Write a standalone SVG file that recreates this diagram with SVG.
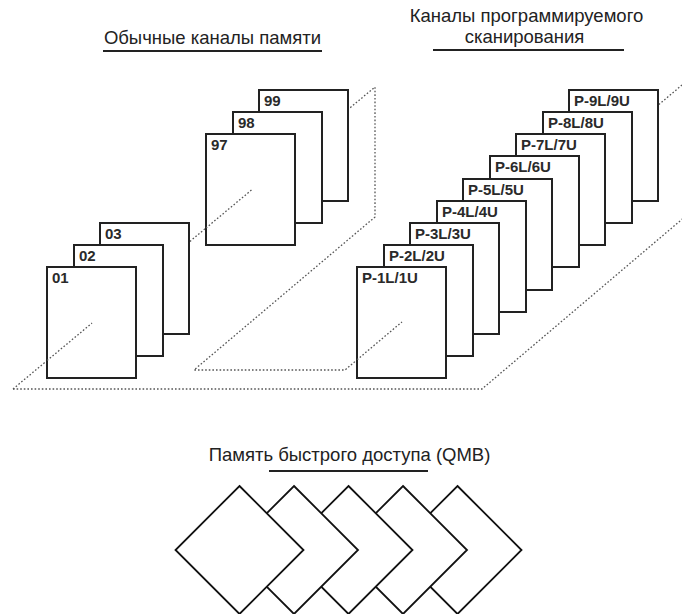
<svg xmlns="http://www.w3.org/2000/svg" width="682" height="614" viewBox="0 0 682 614">
<style>
.bg{fill:#fff}
.card rect{fill:#fff;stroke:#222;stroke-width:2}
.card text{font-family:"Liberation Sans",Arial,sans-serif;font-weight:bold;font-size:15px;fill:#2a2a2a}
.title{font-family:"Liberation Sans",Arial,sans-serif;font-size:18.5px;fill:#222;text-anchor:middle}
.ul{stroke:#222;stroke-width:2.2}
.dot{fill:none;stroke:#555;stroke-width:1.3;stroke-dasharray:1.6 2}
.dia polygon{fill:#fff;stroke:#111;stroke-width:1.8;stroke-linejoin:miter}
</style>
<rect class="bg" x="0" y="0" width="682" height="614"/>

<g id="titles">
<text class="title" x="212.5" y="44">Обычные каналы памяти</text>
<line class="ul" x1="103" y1="51" x2="322" y2="51"/>
<text class="title" x="526.5" y="22">Каналы программируемого</text>
<text class="title" x="524.5" y="43">сканирования</text>
<line class="ul" x1="433" y1="50" x2="624" y2="50"/>
<text class="title" x="349.5" y="461">Память быстрого доступа (QMB)</text>
<line class="ul" x1="269" y1="471" x2="428" y2="471"/>
</g>

<g id="connectors">
<polyline class="dot" points="13,389 375,87 375,217 194,370 345,370 682,85"/>
<polyline class="dot" points="13,389 482,389 700,204"/>
</g>

<g id="ch-99" class="card"><rect x="259" y="90" width="89" height="111"/><text x="264" y="106">99</text></g>
<g id="ch-98" class="card"><rect x="233" y="112" width="89" height="111"/><text x="238" y="128">98</text></g>
<g id="ch-97" class="card"><rect x="206" y="134" width="89" height="111"/><text x="211" y="150">97</text></g>
<g id="ch-03" class="card"><rect x="100" y="223" width="89" height="111"/><text x="105" y="239">03</text></g>
<g id="ch-02" class="card"><rect x="74" y="245" width="89" height="111"/><text x="79" y="261">02</text></g>
<g id="ch-01" class="card"><rect x="47" y="267" width="89" height="111"/><text x="52" y="283">01</text></g>

<g id="p-9" class="card"><rect x="569" y="90" width="89" height="111"/><text x="574" y="106">P-9L/9U</text></g>
<g id="p-8" class="card"><rect x="543" y="112" width="89" height="111"/><text x="548" y="128">P-8L/8U</text></g>
<g id="p-7" class="card"><rect x="516" y="134" width="89" height="111"/><text x="521" y="150">P-7L/7U</text></g>
<g id="p-6" class="card"><rect x="490" y="156" width="89" height="111"/><text x="495" y="172">P-6L/6U</text></g>
<g id="p-5" class="card"><rect x="463" y="179" width="89" height="111"/><text x="468" y="195">P-5L/5U</text></g>
<g id="p-4" class="card"><rect x="437" y="201" width="89" height="111"/><text x="442" y="217">P-4L/4U</text></g>
<g id="p-3" class="card"><rect x="410" y="223" width="89" height="111"/><text x="415" y="239">P-3L/3U</text></g>
<g id="p-2" class="card"><rect x="384" y="245" width="89" height="111"/><text x="389" y="261">P-2L/2U</text></g>
<g id="p-1" class="card"><rect x="357" y="267" width="89" height="111"/><text x="362" y="283">P-1L/1U</text></g>

<g id="connectors-front">
<line class="dot" x1="47" y1="360.6" x2="92" y2="323.1"/>
<line class="dot" x1="206" y1="228" x2="252" y2="189.6"/>
<line class="dot" x1="357" y1="359.8" x2="402" y2="321.9"/>
</g>

<g id="qmb" class="dia">
<polygon points="457.5,486 521.5,550 457.5,614 393.5,550"/>
<polygon points="403,486 467,550 403,614 339,550"/>
<polygon points="348.5,486 412.5,550 348.5,614 284.5,550"/>
<polygon points="294,486 358,550 294,614 230,550"/>
<polygon points="239.5,486 303.5,550 239.5,614 175.5,550"/>
</g>
</svg>
